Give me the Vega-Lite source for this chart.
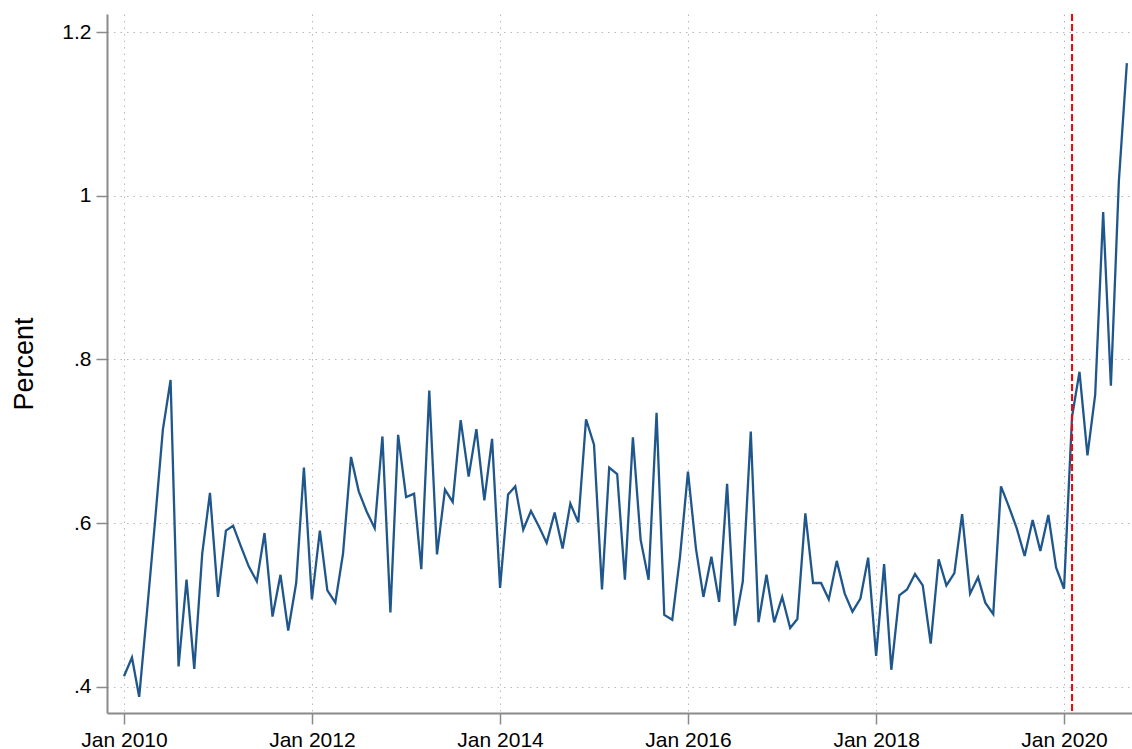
{
  "$schema": "https://vega.github.io/schema/vega-lite/v6.json",
  "autosize": {"type": "none"},
  "padding": {"left": 107, "top": 14, "right": 0, "bottom": 36},
  "width": 1025,
  "height": 699,
  "background": "white",
  "config": {
    "view": {"stroke": null},
    "font": "Liberation Sans"
  },
  "datasets": {
    "series": [
      {"date": "2010-01-01", "value": 0.413}, {"date": "2010-02-01", "value": 0.436}, {"date": "2010-03-01", "value": 0.388}, {"date": "2010-04-01", "value": 0.494}, {"date": "2010-05-01", "value": 0.600}, {"date": "2010-06-01", "value": 0.714}, {"date": "2010-07-01", "value": 0.775}, {"date": "2010-08-01", "value": 0.425}, {"date": "2010-09-01", "value": 0.531}, {"date": "2010-10-01", "value": 0.422}, {"date": "2010-11-01", "value": 0.563}, {"date": "2010-12-01", "value": 0.637},
      {"date": "2011-01-01", "value": 0.510}, {"date": "2011-02-01", "value": 0.591}, {"date": "2011-03-01", "value": 0.597}, {"date": "2011-04-01", "value": 0.571}, {"date": "2011-05-01", "value": 0.547}, {"date": "2011-06-01", "value": 0.529}, {"date": "2011-07-01", "value": 0.588}, {"date": "2011-08-01", "value": 0.486}, {"date": "2011-09-01", "value": 0.537}, {"date": "2011-10-01", "value": 0.469}, {"date": "2011-11-01", "value": 0.527}, {"date": "2011-12-01", "value": 0.668},
      {"date": "2012-01-01", "value": 0.507}, {"date": "2012-02-01", "value": 0.591}, {"date": "2012-03-01", "value": 0.518}, {"date": "2012-04-01", "value": 0.503}, {"date": "2012-05-01", "value": 0.563}, {"date": "2012-06-01", "value": 0.681}, {"date": "2012-07-01", "value": 0.639}, {"date": "2012-08-01", "value": 0.614}, {"date": "2012-09-01", "value": 0.594}, {"date": "2012-10-01", "value": 0.706}, {"date": "2012-11-01", "value": 0.491}, {"date": "2012-12-01", "value": 0.708},
      {"date": "2013-01-01", "value": 0.632}, {"date": "2013-02-01", "value": 0.636}, {"date": "2013-03-01", "value": 0.544}, {"date": "2013-04-01", "value": 0.762}, {"date": "2013-05-01", "value": 0.562}, {"date": "2013-06-01", "value": 0.641}, {"date": "2013-07-01", "value": 0.626}, {"date": "2013-08-01", "value": 0.726}, {"date": "2013-09-01", "value": 0.657}, {"date": "2013-10-01", "value": 0.715}, {"date": "2013-11-01", "value": 0.628}, {"date": "2013-12-01", "value": 0.703},
      {"date": "2014-01-01", "value": 0.521}, {"date": "2014-02-01", "value": 0.635}, {"date": "2014-03-01", "value": 0.645}, {"date": "2014-04-01", "value": 0.592}, {"date": "2014-05-01", "value": 0.615}, {"date": "2014-06-01", "value": 0.596}, {"date": "2014-07-01", "value": 0.576}, {"date": "2014-08-01", "value": 0.613}, {"date": "2014-09-01", "value": 0.569}, {"date": "2014-10-01", "value": 0.624}, {"date": "2014-11-01", "value": 0.601}, {"date": "2014-12-01", "value": 0.727},
      {"date": "2015-01-01", "value": 0.696}, {"date": "2015-02-01", "value": 0.519}, {"date": "2015-03-01", "value": 0.668}, {"date": "2015-04-01", "value": 0.660}, {"date": "2015-05-01", "value": 0.531}, {"date": "2015-06-01", "value": 0.705}, {"date": "2015-07-01", "value": 0.580}, {"date": "2015-08-01", "value": 0.531}, {"date": "2015-09-01", "value": 0.735}, {"date": "2015-10-01", "value": 0.488}, {"date": "2015-11-01", "value": 0.482}, {"date": "2015-12-01", "value": 0.559},
      {"date": "2016-01-01", "value": 0.663}, {"date": "2016-02-01", "value": 0.569}, {"date": "2016-03-01", "value": 0.510}, {"date": "2016-04-01", "value": 0.559}, {"date": "2016-05-01", "value": 0.504}, {"date": "2016-06-01", "value": 0.648}, {"date": "2016-07-01", "value": 0.475}, {"date": "2016-08-01", "value": 0.529}, {"date": "2016-09-01", "value": 0.712}, {"date": "2016-10-01", "value": 0.479}, {"date": "2016-11-01", "value": 0.537}, {"date": "2016-12-01", "value": 0.479},
      {"date": "2017-01-01", "value": 0.510}, {"date": "2017-02-01", "value": 0.472}, {"date": "2017-03-01", "value": 0.483}, {"date": "2017-04-01", "value": 0.612}, {"date": "2017-05-01", "value": 0.527}, {"date": "2017-06-01", "value": 0.527}, {"date": "2017-07-01", "value": 0.507}, {"date": "2017-08-01", "value": 0.554}, {"date": "2017-09-01", "value": 0.514}, {"date": "2017-10-01", "value": 0.492}, {"date": "2017-11-01", "value": 0.508}, {"date": "2017-12-01", "value": 0.558},
      {"date": "2018-01-01", "value": 0.438}, {"date": "2018-02-01", "value": 0.550}, {"date": "2018-03-01", "value": 0.421}, {"date": "2018-04-01", "value": 0.512}, {"date": "2018-05-01", "value": 0.519}, {"date": "2018-06-01", "value": 0.538}, {"date": "2018-07-01", "value": 0.524}, {"date": "2018-08-01", "value": 0.453}, {"date": "2018-09-01", "value": 0.556}, {"date": "2018-10-01", "value": 0.524}, {"date": "2018-11-01", "value": 0.539}, {"date": "2018-12-01", "value": 0.611},
      {"date": "2019-01-01", "value": 0.514}, {"date": "2019-02-01", "value": 0.534}, {"date": "2019-03-01", "value": 0.503}, {"date": "2019-04-01", "value": 0.489}, {"date": "2019-05-01", "value": 0.645}, {"date": "2019-06-01", "value": 0.620}, {"date": "2019-07-01", "value": 0.594}, {"date": "2019-08-01", "value": 0.560}, {"date": "2019-09-01", "value": 0.604}, {"date": "2019-10-01", "value": 0.566}, {"date": "2019-11-01", "value": 0.610}, {"date": "2019-12-01", "value": 0.546},
      {"date": "2020-01-01", "value": 0.520}, {"date": "2020-02-01", "value": 0.730}, {"date": "2020-03-01", "value": 0.785}, {"date": "2020-04-01", "value": 0.683}, {"date": "2020-05-01", "value": 0.757}, {"date": "2020-06-01", "value": 0.980}, {"date": "2020-07-01", "value": 0.768}, {"date": "2020-08-01", "value": 1.018}, {"date": "2020-09-01", "value": 1.162}
    ],
    "event": [{"date": "2020-02-01"}]
  },
  "layer": [
    {
      "data": {"name": "series"},
      "mark": {"type": "line", "color": "#1f578c", "strokeWidth": 2.3, "clip": true},
      "encoding": {
        "x": {
          "field": "date", "type": "temporal",
          "scale": {"type": "utc", "domain": [{"year": 2009, "month": 10, "date": 27, "utc": true}, {"year": 2020, "month": 9, "date": 21, "utc": true}]},
          "axis": {
            "title": null,
            "values": [
              {"year": 2010, "month": 1, "date": 1, "utc": true},
              {"year": 2012, "month": 1, "date": 1, "utc": true},
              {"year": 2014, "month": 1, "date": 1, "utc": true},
              {"year": 2016, "month": 1, "date": 1, "utc": true},
              {"year": 2018, "month": 1, "date": 1, "utc": true},
              {"year": 2020, "month": 1, "date": 1, "utc": true}
            ],
            "labelExpr": "utcFormat(datum.value, '%b %Y')",
            "labelFontSize": 21, "labelColor": "black", "labelPadding": 5,
            "labelOverlap": false, "labelFlush": false, "labelBound": false,
            "domainColor": "#8a8a8a", "domainWidth": 2,
            "tickColor": "#8a8a8a", "tickWidth": 1.5, "tickSize": 11,
            "grid": true, "gridColor": "#b8b8b8", "gridDash": [1.5, 5], "gridWidth": 1
          }
        },
        "y": {
          "field": "value", "type": "quantitative",
          "scale": {"domain": [0.3682, 1.222], "nice": false, "zero": false},
          "axis": {
            "title": "Percent",
            "titleFontSize": 27, "titleFontWeight": "normal", "titleColor": "black",
            "titleAngle": -90, "titleX": -75, "titleY": 349.5, "titleBaseline": "alphabetic", "titleAlign": "center",
            "values": [0.4, 0.6, 0.8, 1, 1.2],
            "labelExpr": "datum.value < 1 ? substring(format(datum.value, '.1f'), 1) : format(datum.value, '~g')",
            "labelFontSize": 21, "labelColor": "black", "labelPadding": 5,
            "labelOverlap": false, "labelFlush": false, "labelBound": false,
            "domainColor": "#8a8a8a", "domainWidth": 2,
            "tickColor": "#8a8a8a", "tickWidth": 1.5, "tickSize": 11,
            "grid": true, "gridColor": "#b8b8b8", "gridDash": [1.5, 5], "gridWidth": 1
          }
        }
      }
    },
    {
      "data": {"name": "event"},
      "mark": {"type": "rule", "color": "#ff0000", "strokeWidth": 2, "strokeDash": [7, 3]},
      "encoding": {
        "x": {"field": "date", "type": "temporal"}
      }
    }
  ]
}
